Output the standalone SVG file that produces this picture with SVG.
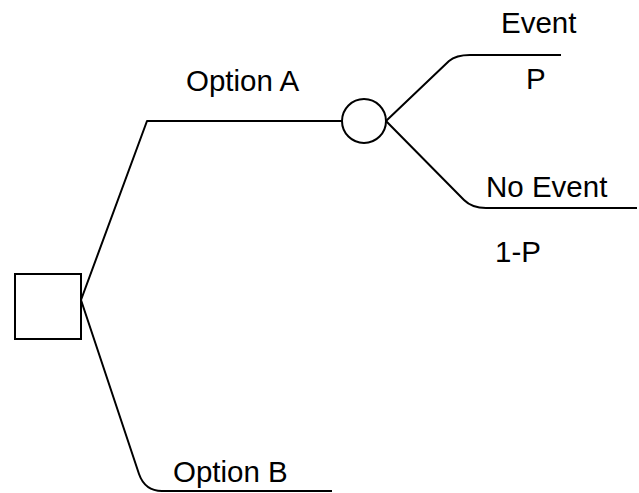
<svg xmlns="http://www.w3.org/2000/svg" width="639" height="493" viewBox="0 0 639 493">
<style>
.ln{fill:none;stroke:#000;stroke-width:2;stroke-linejoin:round}
.nd{fill:#fff;stroke:#000;stroke-width:2}
text{font-family:"Liberation Sans",Arial,sans-serif;font-size:29.5px;fill:#000}
</style>
<rect width="639" height="493" fill="#fff"/>
<g id="connectors">
<path class="ln" d="M81,300 L147,121 L342,121"/>
<path class="ln" d="M81,300 L139,474 Q145,491 162,491 L332,491"/>
<path class="ln" d="M386,121 L449,61 Q456,55 470,55 L561,55"/>
<path class="ln" d="M386,121 L464,200 Q472,208 486,208 L637,208"/>
</g>
<g id="decision">
<rect class="nd" x="15" y="274" width="66" height="65"/>
</g>
<g id="chance">
<circle class="nd" cx="364" cy="121" r="22"/>
</g>
<g id="labels">
<text x="186" y="90.5">Option A</text>
<text x="173" y="481.5">Option B</text>
<text x="501" y="33">Event</text>
<text x="526" y="89">P</text>
<text x="486" y="197">No Event</text>
<text x="495" y="261.5">1-P</text>
</g>
</svg>
